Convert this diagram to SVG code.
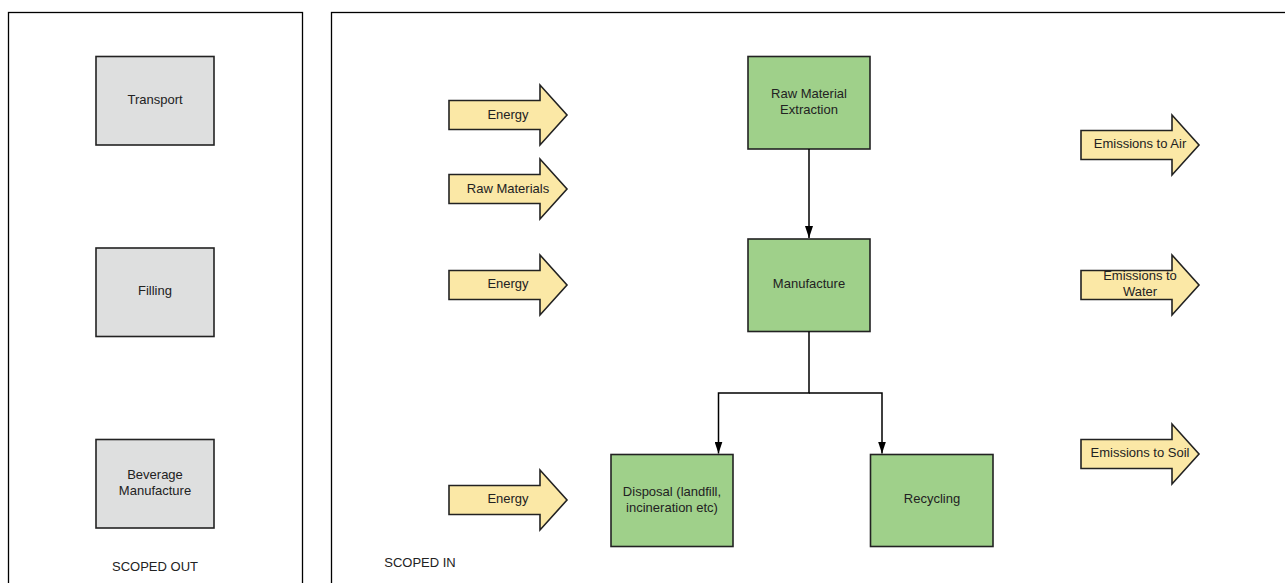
<svg xmlns="http://www.w3.org/2000/svg" width="1285" height="583" viewBox="0 0 1285 583">
<defs>
<style>
.panel{fill:#fff;stroke:#000;stroke-width:1.3}
.grey{fill:#dedfdf;stroke:#222;stroke-width:1.6}
.green{fill:#9fd08a;stroke:#222;stroke-width:1.6}
.yel{fill:#fbe8a6;stroke:#222;stroke-width:1.6;stroke-linejoin:miter}
text{font-family:"Liberation Sans",Arial,sans-serif;font-size:13px;fill:#222;text-anchor:middle}
.conn{fill:none;stroke:#000;stroke-width:1.5}
</style>
<marker id="ah" viewBox="0 0 12 8" refX="12" refY="4" markerWidth="12" markerHeight="8" markerUnits="userSpaceOnUse" orient="auto">
<path d="M0,0 L12,4 L0,8 z" fill="#000"/>
</marker>
<path id="arr" d="M0,-14.5 H91 V-30 L118,0 L91,30 V14.5 H0 Z"/>
</defs>

<g id="panel-out">
<rect class="panel" x="8.5" y="12.5" width="294" height="580"/>
<text x="155" y="571">SCOPED OUT</text>
</g>
<g id="panel-in">
<rect class="panel" x="331.5" y="12.5" width="970" height="580"/>
<text x="420" y="567">SCOPED IN</text>
</g>

<g id="transport"><rect class="grey" x="96" y="56.5" width="118" height="88.5"/><text x="155" y="104">Transport</text></g>
<g id="filling"><rect class="grey" x="96" y="248" width="118" height="88.5"/><text x="155" y="295">Filling</text></g>
<g id="beverage"><rect class="grey" x="96" y="439.5" width="118" height="88.5"/><text x="155" y="479">Beverage</text><text x="155" y="495">Manufacture</text></g>

<g id="energy1"><use href="#arr" class="yel" x="449" y="115"/><text x="508" y="119">Energy</text></g>
<g id="rawmat"><use href="#arr" class="yel" x="449" y="189"/><text x="508" y="193">Raw Materials</text></g>
<g id="energy2"><use href="#arr" class="yel" x="449" y="285"/><text x="508" y="288">Energy</text></g>
<g id="energy3"><use href="#arr" class="yel" x="449" y="500"/><text x="508" y="503">Energy</text></g>

<g id="em-air"><use href="#arr" class="yel" x="1081" y="145"/><text x="1140" y="148">Emissions to Air</text></g>
<g id="em-water"><use href="#arr" class="yel" x="1081" y="285"/><text x="1140" y="280">Emissions to</text><text x="1140" y="296">Water</text></g>
<g id="em-soil"><use href="#arr" class="yel" x="1081" y="454"/><text x="1140" y="457">Emissions to Soil</text></g>

<g id="extraction"><rect class="green" x="748" y="56.5" width="122" height="92.5"/><text x="809" y="98">Raw Material</text><text x="809" y="114">Extraction</text></g>
<g id="manufacture"><rect class="green" x="748" y="239" width="122" height="92.5"/><text x="809" y="288">Manufacture</text></g>
<g id="disposal"><rect class="green" x="611" y="454.5" width="122" height="92"/><text x="672" y="496">Disposal (landfill,</text><text x="672" y="512">incineration etc)</text></g>
<g id="recycling"><rect class="green" x="870.5" y="454.5" width="122.5" height="92"/><text x="932" y="503">Recycling</text></g>

<g id="connectors">
<path class="conn" d="M809,149 V238" marker-end="url(#ah)"/>
<path class="conn" d="M809,331.5 V393 H718.5 V453.5" marker-end="url(#ah)"/>
<path class="conn" d="M809,393 H882 V453.5" marker-end="url(#ah)"/>
</g>
</svg>
